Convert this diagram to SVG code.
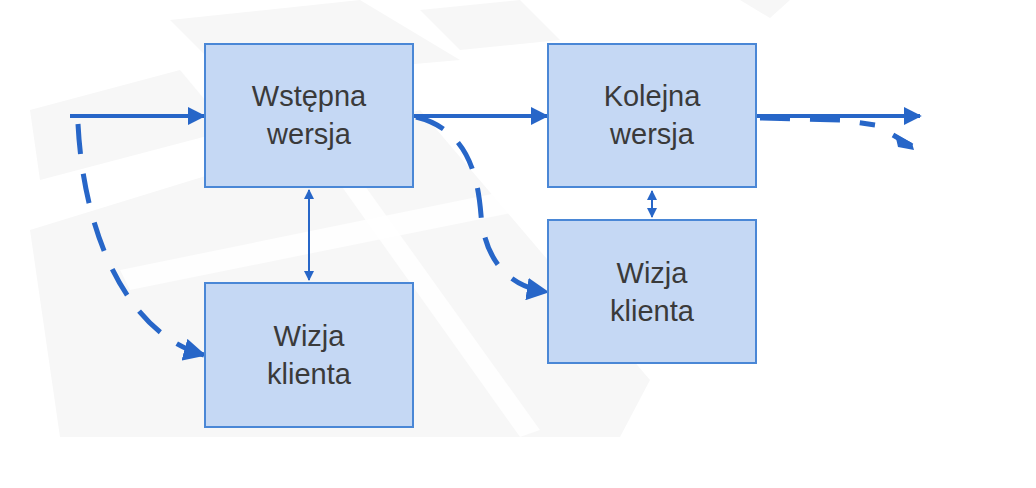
<svg xmlns="http://www.w3.org/2000/svg" width="1036" height="488" viewBox="0 0 1036 488">
<defs>
<style>
.box{fill:#c5d8f4;stroke:#4a87d6;stroke-width:2}
.lbl{font-family:"Liberation Sans",Arial,sans-serif;font-size:29px;fill:#3a3a3a;text-anchor:middle}
.main{fill:none;stroke:#2766c8;stroke-width:4}
.dash{fill:none;stroke:#2766c8;stroke-width:5;stroke-dasharray:30 20}
.thin{fill:none;stroke:#2766c8;stroke-width:2}
.bg{fill:#f7f7f7}
</style>
<marker id="ah" viewBox="0 0 10 10" refX="9" refY="5" markerWidth="4.5" markerHeight="4.5" markerUnits="strokeWidth" orient="auto"><path d="M0,0 L10,5 L0,10 z" fill="#2766c8"/></marker>
<marker id="ahs" viewBox="0 0 10 10" refX="9" refY="5" markerWidth="5" markerHeight="5" markerUnits="strokeWidth" orient="auto-start-reverse"><path d="M0,0 L10,5 L0,10 z" fill="#2766c8"/></marker>
</defs>
<rect width="1036" height="488" fill="#fff"/>
<g id="background">
<polygon class="bg" points="30,230 420,110 650,380 620,437 60,437"/>
<polygon class="bg" points="30,110 180,70 230,130 40,180"/>
<polygon class="bg" points="170,20 360,0 460,60 230,80"/>
<polygon class="bg" points="420,10 520,0 560,40 460,50"/>
<polygon class="bg" points="740,0 790,0 770,18"/>
<polygon points="120,270 560,180 575,200 130,290" fill="#fff" opacity="0.8"/>
<polygon points="330,170 350,165 540,430 520,437" fill="#fff" opacity="0.8"/>
</g>
<g id="connectors">
<line class="main" x1="70" y1="116" x2="204" y2="116" marker-end="url(#ah)"/>
<line class="main" x1="413" y1="116" x2="547" y2="116" marker-end="url(#ah)"/>
<line class="main" x1="756" y1="116" x2="920" y2="116" marker-end="url(#ah)"/>
<path class="dash" d="M78,124 C84,240 130,335 204,355" marker-end="url(#ah)" stroke-dasharray="45 25"/>
<path class="dash" d="M416,117 C470,130 478,180 481,215 C484,250 500,285 547,292" marker-end="url(#ah)" stroke-dasharray="40 22"/>
<path class="dash" d="M760,118 L840,120 L875,125 M893,135 L912,146" stroke-dasharray="30 15" stroke-width="4"/>
<polygon points="895,134 912,143 914,150 898,147" fill="#2766c8"/>
<line class="thin" x1="309" y1="190" x2="309" y2="280" marker-start="url(#ahs)" marker-end="url(#ahs)"/>
<line class="thin" x1="652" y1="191" x2="652" y2="217" marker-start="url(#ahs)" marker-end="url(#ahs)"/>
</g>
<g id="n1"><rect class="box" x="205" y="44" width="208" height="143"/><text class="lbl" x="309" y="106">Wstępna</text><text class="lbl" x="309" y="144">wersja</text></g>
<g id="n2"><rect class="box" x="548" y="44" width="208" height="143"/><text class="lbl" x="652" y="106">Kolejna</text><text class="lbl" x="652" y="144">wersja</text></g>
<g id="n3"><rect class="box" x="205" y="283" width="208" height="144"/><text class="lbl" x="309" y="346">Wizja</text><text class="lbl" x="309" y="384">klienta</text></g>
<g id="n4"><rect class="box" x="548" y="220" width="208" height="143"/><text class="lbl" x="652" y="283">Wizja</text><text class="lbl" x="652" y="321">klienta</text></g>
</svg>
